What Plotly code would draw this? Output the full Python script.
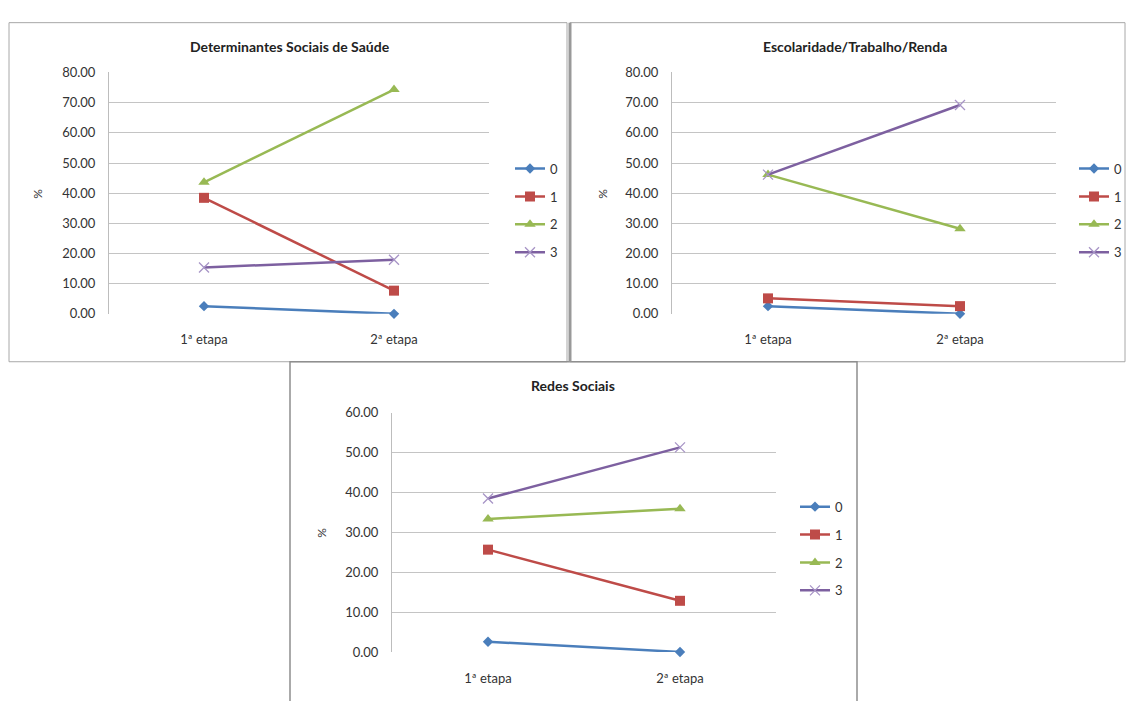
import plotly.graph_objects as go

# ---- data -------------------------------------------------------------
categories = ["1ª etapa", "2ª etapa"]
series_names = ["0", "1", "2", "3"]

# Determinantes Sociais de Saúde (%)
dss_0 = [2.56, 0.00]
dss_1 = [38.46, 7.69]
dss_2 = [43.59, 74.36]
dss_3 = [15.38, 17.95]

# Escolaridade/Trabalho/Renda (%)
etr_0 = [2.56, 0.00]
etr_1 = [5.13, 2.56]
etr_2 = [46.15, 28.21]
etr_3 = [46.15, 69.23]

# Redes Sociais (%)
rs_0 = [2.56, 0.00]
rs_1 = [25.64, 12.82]
rs_2 = [33.33, 35.90]
rs_3 = [38.46, 51.28]

titles = ["Determinantes Sociais de Saúde", "Escolaridade/Trabalho/Renda", "Redes Sociais"]
y_max = [80, 80, 60]

# ---- styling ----------------------------------------------------------
W, H = 1127, 701
FONT = "Lato"
colors = ["#4A7EBB", "#BE4B48", "#98B954", "#7D60A0"]
symbols = ["diamond", "square", "triangle-up", "x-thin"]
msizes = [8, 10, 10, 10]


def px(x):
    return x / W


def py(y):
    return 1 - y / H


# plot areas and decorations in page pixels
panels = [
    dict(xd=(109, 489), yd=(66, 313), leg=(510, 149), title=(290, 39), pct=(38, 190)),
    dict(xd=(672, 1056), yd=(66, 313), leg=(1074, 149), title=(855, 39), pct=(603, 190)),
    dict(xd=(392, 776), yd=(414, 659), leg=(795, 495), title=(573, 386), pct=(322, 537)),
]

datasets = [
    [dss_0, dss_1, dss_2, dss_3],
    [etr_0, etr_1, etr_2, etr_3],
    [rs_0, rs_1, rs_2, rs_3],
]

fig = go.Figure()
layout = dict(
    width=W, height=H,
    margin=dict(l=0, r=0, t=0, b=0),
    paper_bgcolor="white", plot_bgcolor="white",
    font=dict(family=FONT, size=13, color="#333333"),
    showlegend=True,
)
annotations = []

for i, (p, data) in enumerate(zip(panels, datasets)):
    n = "" if i == 0 else str(i + 1)
    legend_name = "legend" + n
    for k, (name, vals) in enumerate(zip(series_names, data)):
        marker = dict(symbol=symbols[k], size=msizes[k], color=colors[k])
        if symbols[k] == "x-thin":
            marker["line"] = dict(color="#A794C6", width=1.3)
        fig.add_trace(go.Scatter(
            x=categories, y=vals, name=name, mode="lines+markers",
            line=dict(color=colors[k], width=2.5),
            marker=marker, cliponaxis=False,
            xaxis="x" + n, yaxis="y" + n,
            legend=legend_name, legendgroup=name + "_" + str(i),
        ))
    layout["xaxis" + n] = dict(
        domain=[px(p["xd"][0]), px(p["xd"][1])], anchor="y" + n,
        type="category", range=[-0.5, 1.5], showgrid=False, zeroline=False,
        showline=False, ticks="outside", ticklen=14, tickcolor="rgba(0,0,0,0)",
        tickfont=dict(family=FONT, size=13, color="#333333"),
    )
    layout["yaxis" + n] = dict(
        domain=[py(p["yd"][1]), py(p["yd"][0])], anchor="x" + n,
        range=[0, y_max[i]], dtick=10, tickformat=".2f",
        showgrid=True, gridcolor="#C4C4C4", gridwidth=1.2,
        zeroline=False, showline=True, linecolor="#BDBDBD", linewidth=1,
        ticks="outside", ticklen=10, tickcolor="rgba(0,0,0,0)",
        tickfont=dict(family=FONT, size=13, color="#333333"),
    )
    layout[legend_name] = dict(
        x=px(p["leg"][0]), y=py(p["leg"][1]), xanchor="left", yanchor="top",
        bgcolor="rgba(0,0,0,0)", tracegroupgap=8,
        font=dict(family=FONT, size=13, color="#333333"),
    )
    annotations.append(dict(
        text="<b>" + titles[i] + "</b>", x=px(p["title"][0]), y=py(p["title"][1]),
        xref="paper", yref="paper", xanchor="center", yanchor="middle",
        showarrow=False, font=dict(family=FONT, size=14, color="#222222"),
    ))
    annotations.append(dict(
        text="%", x=px(p["pct"][0]), y=py(p["pct"][1]), textangle=-90,
        xref="paper", yref="paper", xanchor="center", yanchor="middle",
        showarrow=False, font=dict(family=FONT, size=12, color="#333333"),
    ))

layout["annotations"] = annotations

# chart frames
frame = dict(type="rect", xref="paper", yref="paper", layer="below",
             line=dict(color="#A8A8A8", width=1), fillcolor="rgba(0,0,0,0)")
layout["shapes"] = [
    dict(frame, x0=px(9), x1=px(567), y0=py(362), y1=py(15)),
    dict(frame, x0=px(570), x1=px(1125), y0=py(362), y1=py(15)),
    dict(type="line", xref="paper", yref="paper", x0=px(570), x1=px(570),
         y0=py(362), y1=py(15), line=dict(color="#999999", width=3)),
    dict(frame, x0=px(290), x1=px(857), y0=py(710), y1=py(362),
         line=dict(color="#8F8F8F", width=1.5)),
]

fig.update_layout(**layout)
fig.write_html("out.html")
